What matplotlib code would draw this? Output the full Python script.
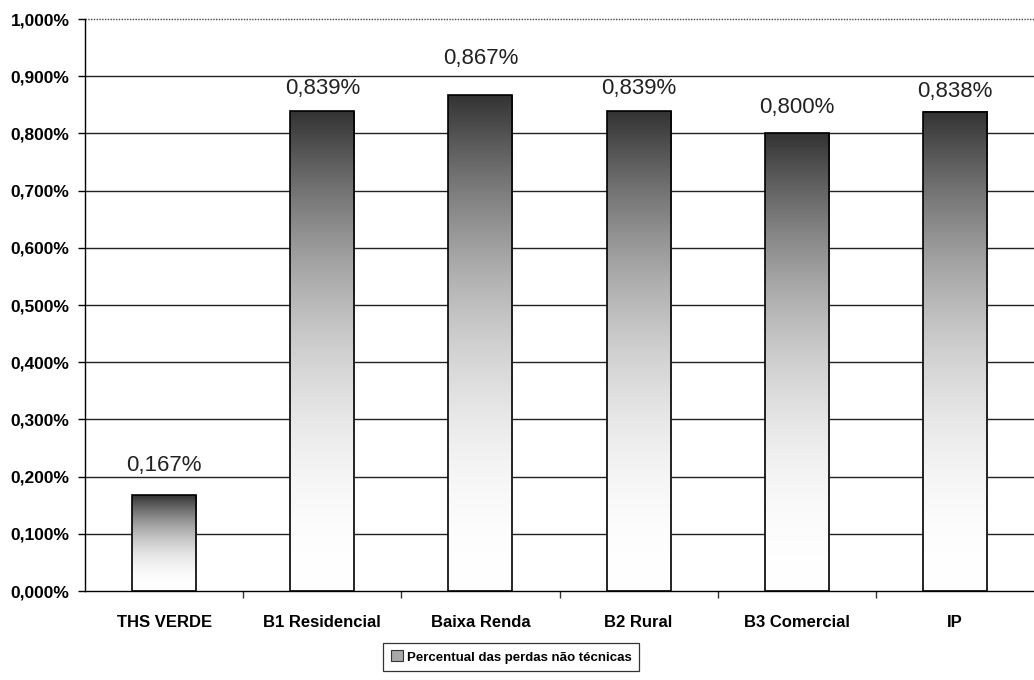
import numpy as np
import matplotlib
matplotlib.use("Agg")
import matplotlib.pyplot as plt
from matplotlib.patches import Patch
from matplotlib.colors import LinearSegmentedColormap

categories = ["THS VERDE", "B1 Residencial", "Baixa Renda", "B2 Rural", "B3 Comercial", "IP"]
values = [0.167, 0.839, 0.867, 0.839, 0.800, 0.838]  # percent
y_ticks = [0.0, 0.1, 0.2, 0.3, 0.4, 0.5, 0.6, 0.7, 0.8, 0.9, 1.0]
legend_label = "Percentual das perdas não técnicas"
label_offsets_pt = [14, 8.5, 19, 8.5, 11, 7]

plt.rcParams['font.family'] = ['Liberation Sans', 'DejaVu Sans']

fig = plt.figure(figsize=(10.34, 6.80), dpi=100)
ax = fig.add_axes([85/1034, 1-591/680, 1-85/1034, (591-19)/680])

# gradient colormap: white at bottom -> dark gray at top
tt = np.linspace(0, 1, 256)
vals = 1 - 0.8 * tt**2.1
cmap = LinearSegmentedColormap.from_list("grad", [(v, v, v) for v in vals])

width = 0.405
x = np.arange(len(categories))
for xi, v, off in zip(x, values, label_offsets_pt):
    grad = np.linspace(0, 1, 256).reshape(-1, 1)
    ax.imshow(grad, extent=[xi - width/2, xi + width/2, 0, v], origin='lower',
              aspect='auto', cmap=cmap, vmin=0, vmax=1, zorder=2, interpolation='bilinear')
    ax.add_patch(plt.Rectangle((xi - width/2, 0), width, v, facecolor='none',
                               edgecolor='black', linewidth=1.2, zorder=3))
    ax.annotate(f"{v:.3f}%".replace('.', ','), xy=(xi, v), xytext=(0, off),
                textcoords='offset points', ha='center', va='bottom',
                fontsize=16, color='#222222', zorder=4)

ax.set_xlim(-0.5, len(categories) - 0.5)
ax.set_ylim(0, 1.0)

# gridlines
for yv in y_ticks[1:]:
    if yv < 1.0:
        ax.axhline(yv, color='#222222', linewidth=1.0, zorder=1)
    else:
        ax.axhline(yv, color='#444444', linewidth=1.0, linestyle=(0, (1, 1)), zorder=1, clip_on=False)

ax.set_yticks(y_ticks)
ax.set_yticklabels([f"{t:.3f}%".replace('.', ',') for t in y_ticks],
                   fontsize=12.5, fontweight='bold')
ax.tick_params(axis='y', length=5, width=1, pad=6, color='black')

ax.set_xticks(x)
ax.set_xticklabels(categories, fontsize=12, fontweight='bold')
ax.tick_params(axis='x', which='major', length=0, pad=17)
ax.set_xticks(np.arange(0.5, len(categories) - 0.5, 1), minor=True)
ax.tick_params(axis='x', which='minor', length=5, width=1, color='#333333')

for s in ['top', 'right']:
    ax.spines[s].set_visible(False)
ax.spines['left'].set_linewidth(1.0)
ax.spines['bottom'].set_linewidth(1.0)

handle = Patch(facecolor='#a8a8a8', edgecolor='#333333', linewidth=0.8)
leg = fig.legend([handle], [legend_label], loc='center', bbox_to_anchor=(511/1034, 1-657/680),
                 frameon=True, fancybox=False, prop={'weight': 'bold', 'size': 9.5},
                 handlelength=0.9, handleheight=0.9, handletextpad=0.3,
                 borderpad=0.6, borderaxespad=0)
leg.get_frame().set_edgecolor('black')
leg.get_frame().set_linewidth(0.9)

fig.savefig("out.png", dpi=100)
